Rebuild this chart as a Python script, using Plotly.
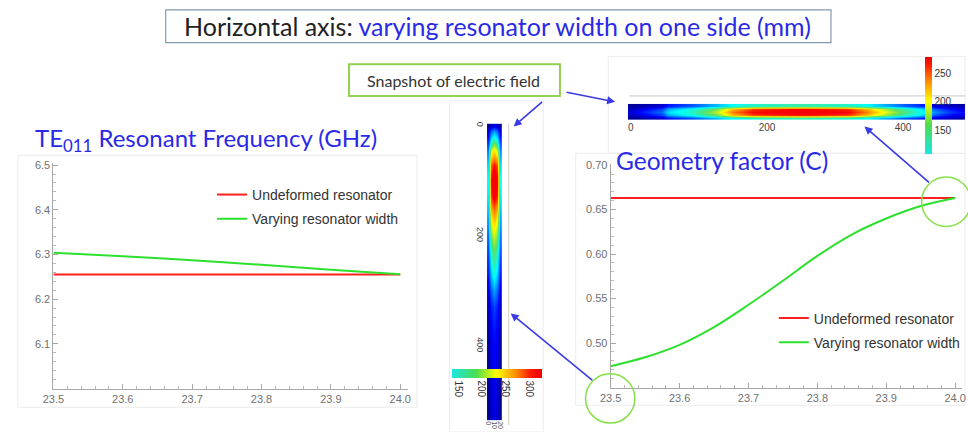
import plotly.graph_objects as go

W, H = 968, 432

# ---------------- data ----------------
width_mm = [23.5, 23.6, 23.7, 23.8, 23.9, 24.0]
freq_undeformed = [6.255, 6.255, 6.255, 6.255, 6.255, 6.255]
freq_varying = [6.304, 6.296, 6.287, 6.277, 6.266, 6.256]

g_width_mm = [23.50, 23.55, 23.60, 23.65, 23.70, 23.75, 23.80, 23.85, 23.90, 23.95, 24.00]
g_undeformed = [0.663, 0.663, 0.663, 0.663, 0.663, 0.663, 0.663, 0.663, 0.663, 0.663, 0.663]
g_varying = [0.474, 0.484, 0.498, 0.518, 0.543, 0.570, 0.598, 0.622, 0.640, 0.654, 0.663]

freq_yticks = [6.1, 6.2, 6.3, 6.4, 6.5]
geo_yticks = [0.50, 0.55, 0.60, 0.65, 0.70]
x_ticks = [23.5, 23.6, 23.7, 23.8, 23.9, 24.0]

# electric field snapshot at 24.0 mm (horizontal strip): edge / mid / centre rows
field_cross = [0, 5, 10, 15, 20]
field_h_pos = [0, 20, 45, 55, 90, 127, 150, 180, 250, 320, 345, 370, 400, 430, 445, 470, 495]
field_h_center = [30, 50, 70, 100, 130, 185, 240, 264, 275, 265, 240, 200, 155, 110, 80, 55, 40]
field_h_mid = [20, 38, 58, 85, 115, 165, 222, 252, 266, 254, 222, 182, 138, 95, 65, 42, 28]
field_h_edge = [8, 15, 25, 45, 62, 90, 110, 125, 135, 125, 110, 88, 66, 48, 30, 20, 10]
field_h_ticks = [0, 200, 400]
cbar_h_ticks = [150, 200, 250]

# electric field snapshot at 23.5 mm (vertical strip)
field_v_pos = [0, 10, 25, 45, 70, 100, 130, 158, 190, 230, 270, 300, 330, 380, 450, 535]
field_v_center = [40, 100, 160, 240, 295, 318, 305, 270, 228, 180, 145, 105, 72, 55, 45, 40]
field_v_mid = [28, 80, 135, 215, 280, 305, 290, 250, 205, 160, 120, 85, 58, 45, 36, 30]
field_v_edge = [10, 35, 60, 95, 125, 140, 130, 115, 95, 75, 58, 40, 28, 18, 12, 10]
field_v_ticks = [0, 200, 400]
cbar_v_ticks = [150, 200, 250, 300]

# ---------------- helpers ----------------
def px(x):
    return x / W

def py(y):
    return 1 - y / H

RED = "#ff1f1f"
GREEN = "#2ee02e"
BLUE_TXT = "#2a2ae6"
ARROW = "#3a3ae6"
CIRC = "#86e04a"
MFONT = "Liberation Sans"
SFONT = "Lato"

h_scale = [[0, "#00007a"], [0.143, "#0000ff"], [0.386, "#00ffff"], [0.571, "#60e060"],
           [0.714, "#ffff00"], [0.839, "#ff8c00"], [0.946, "#ff0000"], [1, "#ee0000"]]
v_scale = [[0, "#00007a"], [0.154, "#0000ff"], [0.42, "#00ffff"], [0.57, "#60e060"],
           [0.708, "#ffff00"], [0.83, "#ff8c00"], [0.923, "#ff0000"], [1, "#ee0000"]]
cb_h_scale = [[0, "#19e6e6"], [0.3, "#4ddc4d"], [0.54, "#ffff00"], [0.75, "#ff8c00"], [0.92, "#ff1a00"], [1, "#ee0000"]]
cb_v_scale = [[0, "#19e6e6"], [0.27, "#4ddc4d"], [0.495, "#ffff00"], [0.71, "#ff8c00"], [0.87, "#ff1a00"], [1, "#ee0000"]]

fig = go.Figure()

# ---- left: resonant frequency ----
fig.add_trace(go.Scatter(x=width_mm, y=freq_undeformed, mode="lines", name="Undeformed resonator",
                         line=dict(color=RED, width=2), xaxis="x", yaxis="y", legend="legend",
                         legendgroup="a", hoverinfo="skip"))
fig.add_trace(go.Scatter(x=width_mm, y=freq_varying, mode="lines", name="Varying resonator width",
                         line=dict(color=GREEN, width=2, shape="spline"), xaxis="x", yaxis="y",
                         legend="legend", legendgroup="b", hoverinfo="skip"))

# ---- right: geometry factor ----
fig.add_trace(go.Scatter(x=g_width_mm, y=g_undeformed, mode="lines", name="Undeformed resonator",
                         line=dict(color=RED, width=2), xaxis="x2", yaxis="y2", legend="legend2",
                         legendgroup="c", hoverinfo="skip"))
fig.add_trace(go.Scatter(x=g_width_mm, y=g_varying, mode="lines", name="Varying resonator width",
                         line=dict(color=GREEN, width=2, shape="spline"), xaxis="x2", yaxis="y2",
                         legend="legend2", legendgroup="d", hoverinfo="skip"))

# ---- horizontal field snapshot ----
fig.add_trace(go.Heatmap(x=field_h_pos, y=field_cross,
                         z=[field_h_edge, field_h_mid, field_h_center, field_h_mid, field_h_edge],
                         zsmooth="best", colorscale=h_scale, zmin=0, zmax=280, showscale=False,
                         xaxis="x3", yaxis="y3", hoverinfo="skip"))
fig.add_trace(go.Scatter(x=[field_h_pos[8]], y=[field_cross[2]], mode="markers", showlegend=False,
                         hoverinfo="skip", xaxis="x3", yaxis="y3",
                         marker=dict(size=1, opacity=0, color=[200], colorscale=cb_h_scale,
                                     cmin=108, cmax=278, showscale=True,
                                     colorbar=dict(x=px(927), xanchor="left", y=py(53), yanchor="top",
                                                   len=97, lenmode="pixels", thickness=7,
                                                   tickvals=cbar_h_ticks, ticks="", outlinewidth=0,
                                                   xpad=0, ypad=0,
                                                   tickfont=dict(family=MFONT, size=10, color="#333")))))

# ---- vertical field snapshot ----
fig.add_trace(go.Heatmap(x=field_cross, y=field_v_pos,
                         z=[[e, m, c, m, e] for e, m, c in zip(field_v_edge, field_v_mid, field_v_center)],
                         zsmooth="best", colorscale=v_scale, zmin=0, zmax=325, showscale=False,
                         xaxis="x4", yaxis="y4", hoverinfo="skip"))
fig.add_trace(go.Scatter(x=[field_cross[2]], y=[field_v_pos[5]], mode="markers", showlegend=False,
                         hoverinfo="skip", xaxis="x4", yaxis="y4",
                         marker=dict(size=1, opacity=0, color=[200], colorscale=cb_v_scale,
                                     cmin=137, cmax=325, showscale=True,
                                     colorbar=dict(orientation="h", x=px(447), xanchor="left",
                                                   y=py(368), yanchor="top",
                                                   len=90, lenmode="pixels", thickness=9,
                                                   tickvals=cbar_v_ticks, ticks="", outlinewidth=0,
                                                   tickangle=90, xpad=0, ypad=0,
                                                   tickfont=dict(family=MFONT, size=10, color="#333")))))

axis_common = dict(showline=True, linecolor="#a8a8a8", linewidth=1, ticks="inside", ticklen=5,
                   tickcolor="#a8a8a8", showgrid=False, zeroline=False,
                   tickfont=dict(family=MFONT, size=11, color="#707070"))

fig.update_layout(
    width=W, height=H, margin=dict(l=0, r=0, t=0, b=0), autosize=False,
    paper_bgcolor="white", plot_bgcolor="rgba(0,0,0,0)",
    xaxis=dict(domain=[px(43), px(403)], range=[23.5, 24.0114], anchor="y",
               tickvals=x_ticks, tickformat=".1f",
               minor=dict(ticks="inside", ticklen=3, tick0=23.5, dtick=0.02, tickcolor="#b8b8b8"),
               **axis_common),
    yaxis=dict(domain=[py(388), py(160)], range=[6.0, 6.5044], anchor="x",
               tickvals=freq_yticks, tickformat=".1f",
               minor=dict(ticks="inside", ticklen=3, tick0=6.0, dtick=0.02, tickcolor="#b8b8b8"),
               **axis_common),
    xaxis2=dict(domain=[px(608.5), px(965)], range=[23.5, 24.010], anchor="y2",
                tickvals=x_ticks, tickformat=".1f",
                minor=dict(ticks="inside", ticklen=3, tick0=23.5, dtick=0.02, tickcolor="#b8b8b8"),
                **axis_common),
    yaxis2=dict(domain=[py(387), py(161)], range=[0.45, 0.7011], anchor="x2",
                tickvals=geo_yticks, tickformat=".2f",
                minor=dict(ticks="inside", ticklen=3, tick0=0.45, dtick=0.01, tickcolor="#b8b8b8"),
                **axis_common),
    xaxis3=dict(domain=[px(626), px(968)], range=[-4.3, 491], anchor="y3",
                tickvals=field_h_ticks, ticks="", showline=False, showgrid=False, zeroline=False,
                tickfont=dict(family=MFONT, size=10, color="#444")),
    yaxis3=dict(domain=[py(116), py(100)], range=[-2.5, 22.5], anchor="x3",
                showticklabels=False, ticks="", showline=False, showgrid=False, zeroline=False),
    xaxis4=dict(domain=[px(483), px(498)], range=[-2.5, 22.5], anchor="y4",
                tickvals=[field_cross[0], field_cross[2], field_cross[4]], ticks="", tickangle=90,
                showline=False, showgrid=False,
                zeroline=False, tickfont=dict(family=MFONT, size=7, color="#555")),
    yaxis4=dict(domain=[py(420), py(120)], range=[534.5, -3.6], anchor="x4",
                tickvals=field_v_ticks, ticks="", tickangle=90, showline=False, showgrid=False,
                zeroline=False, tickfont=dict(family=MFONT, size=9, color="#444")),
    legend=dict(x=px(204), y=py(176), xanchor="left", yanchor="top", bgcolor="rgba(0,0,0,0)",
                font=dict(family=MFONT, size=14, color="#333"), tracegroupgap=3,
                traceorder="grouped", itemclick=False),
    legend2=dict(x=px(774), y=py(301), xanchor="left", yanchor="top", bgcolor="rgba(0,0,0,0)",
                 font=dict(family=MFONT, size=14, color="#333"), tracegroupgap=3,
                 traceorder="grouped", itemclick=False),
    showlegend=True,
)

shapes = []
# faint frames of the embedded pictures
for x0, y0, x1, y1 in [(7, 152, 412, 407), (573, 150, 968, 405), (445, 97, 540, 432), (606, 52, 968, 150)]:
    shapes.append(dict(type="rect", xref="paper", yref="paper", x0=px(x0), x1=px(x1), y0=py(y0), y1=py(y1),
                       line=dict(color="#ececec", width=1), layer="below"))
# domain boundary lines next to the field strips
shapes.append(dict(type="line", xref="paper", yref="paper", x0=px(627), x1=px(968), y0=py(92), y1=py(92),
                   line=dict(color="#c8c8c8", width=1)))
shapes.append(dict(type="line", xref="paper", yref="paper", x0=px(505), x1=px(505), y0=py(120), y1=py(425),
                   line=dict(color="#d8cfc0", width=1)))
# title box
shapes.append(dict(type="rect", xref="paper", yref="paper", x0=px(157), x1=px(832), y0=py(5), y1=py(38),
                   line=dict(color="#8497b0", width=1.2)))
# snapshot box
shapes.append(dict(type="rect", xref="paper", yref="paper", x0=px(343), x1=px(557), y0=py(60), y1=py(92),
                   line=dict(color="#92d050", width=2)))
# green circles
for cx, cy, r in [(608, 398, 25), (949, 199, 25)]:
    shapes.append(dict(type="circle", xref="paper", yref="paper", x0=px(cx - r), x1=px(cx + r),
                       y0=py(cy + r), y1=py(cy - r), line=dict(color=CIRC, width=1.5)))
fig.update_layout(shapes=shapes)

ann = []
ann.append(dict(xref="paper", yref="paper", x=px(494), y=py(21), xanchor="center", yanchor="middle",
                showarrow=False,
                text="Horizontal axis: <span style='color:#2a2ae6'>varying resonator width on one side (mm)</span>",
                font=dict(family=SFONT, size=25, color="#222")))
ann.append(dict(xref="paper", yref="paper", x=px(22), y=py(136), xanchor="left", yanchor="middle",
                showarrow=False, text="TE<sub>011</sub> Resonant Frequency (GHz)",
                font=dict(family=SFONT, size=24, color=BLUE_TXT)))
ann.append(dict(xref="paper", yref="paper", x=px(612), y=py(157), xanchor="left", yanchor="middle",
                showarrow=False, text="Geometry factor (C)",
                font=dict(family=SFONT, size=24.5, color=BLUE_TXT)))
ann.append(dict(xref="paper", yref="paper", x=px(449), y=py(76), xanchor="center", yanchor="middle",
                showarrow=False, text="Snapshot of electric field",
                font=dict(family=SFONT, size=16, color="#333")))
for hx, hy, tx, ty in [(613, 98, 563, 88), (510, 123, 540, 97), (866, 123, 932, 180), (507, 312, 590, 380)]:
    ann.append(dict(xref="paper", yref="paper", x=px(hx), y=py(hy), ax=tx - hx, ay=ty - hy,
                    axref="pixel", ayref="pixel", text="", showarrow=True, arrowhead=2, arrowsize=1,
                    arrowwidth=1.6, arrowcolor=ARROW, standoff=0, startstandoff=0))
fig.update_layout(annotations=ann)

fig.write_html("out.html", config={"displayModeBar": False},
               post_script="document.body.style.margin='0';document.body.style.overflow='hidden';")
